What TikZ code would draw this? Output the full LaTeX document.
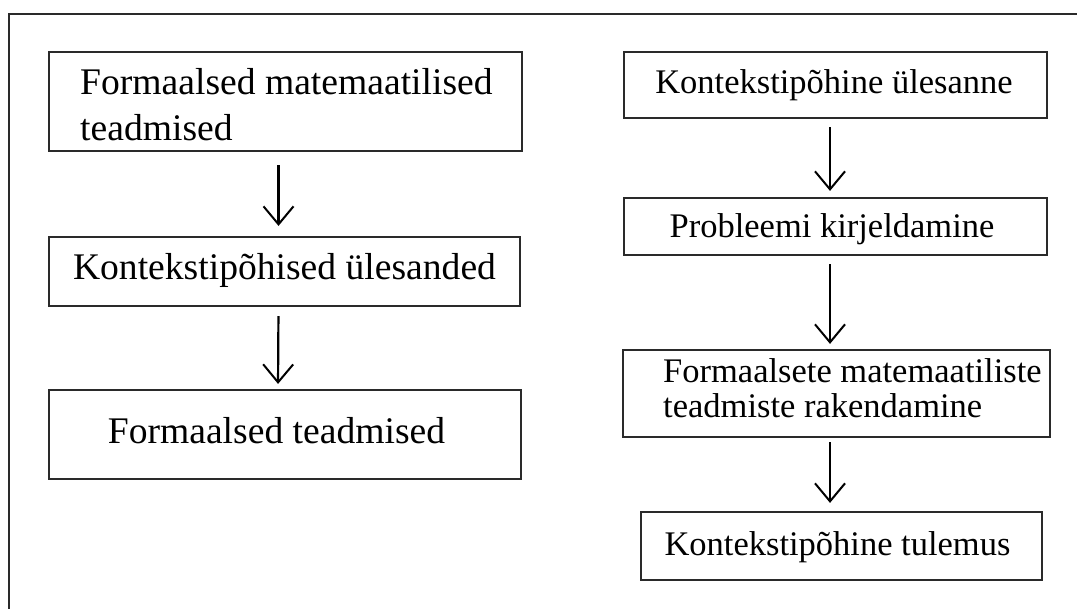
\documentclass[tikz,border=0pt]{standalone}
\usepackage{fontspec}
\setmainfont{Liberation Serif}
\usetikzlibrary{arrows.meta}
\definecolor{frameC}{HTML}{2A2A2A}
\tikzset{
  boxstyle/.style={draw=frameC, line width=2.2pt, inner sep=0pt},
  lefttext/.style={font=\fontsize{37.6}{46}\selectfont, inner sep=0pt, align=left},
  righttext/.style={font=\fontsize{34.5}{35}\selectfont, inner sep=0pt, align=left},
  flowarrow/.style={line width=2.2pt, black, -{Straight Barb[length=18pt,width=30pt,line width=2pt]}}
}
\begin{document}
\begin{tikzpicture}[x=1pt,y=-1pt]
\useasboundingbox (0,0) rectangle (1077,609);
% outer frame (open at right and bottom)
\draw[frameC, line width=2.2pt] (1077,14) -- (9,14) -- (9,609);

% left column boxes
\node[boxstyle, minimum width=473pt, minimum height=99pt] (b1) at (285.5,101.5) {};
\node[lefttext, anchor=base west] (t1a) at (80,94.5) {Formaalsed matemaatilised};
\node[lefttext, anchor=base west] (t1b) at (80,141) {teadmised};

\node[boxstyle, minimum width=471pt, minimum height=69pt] (b2) at (284.5,271.5) {};
\node[lefttext, anchor=base] (t2) at (284.5,280) {Kontekstipõhised ülesanded};

\node[boxstyle, minimum width=472pt, minimum height=89pt] (b3) at (285,434.5) {};
\node[lefttext, anchor=base] (t3) at (276.5,444) {Formaalsed teadmised};

% right column boxes
\node[boxstyle, minimum width=423pt, minimum height=66pt] (r1) at (835.5,85) {};
\node[righttext, anchor=base] (s1) at (834,94) {Kontekstipõhine ülesanne};

\node[boxstyle, minimum width=423pt, minimum height=57pt] (r2) at (835.5,226.5) {};
\node[righttext, anchor=base] (s2) at (832,238) {Probleemi kirjeldamine};

\node[boxstyle, minimum width=427pt, minimum height=87pt] (r3) at (836.5,393.5) {};
\node[righttext, anchor=base west] (s3a) at (663,383) {Formaalsete matemaatiliste};
\node[righttext, anchor=base west] (s3b) at (663,418) {teadmiste rakendamine};

\node[boxstyle, minimum width=401pt, minimum height=68pt] (r4) at (841.5,546) {};
\node[righttext, anchor=base] (s4) at (837.5,555) {Kontekstipõhine tulemus};

% arrows
\draw[flowarrow, shorten <=13pt, shorten >=10pt] ([xshift=-7pt]b1.south) -- ([xshift=-6pt]b2.north);
\draw[flowarrow, shorten <=9pt, shorten >=5pt] ([xshift=-6pt]b2.south) -- ([xshift=-7pt]b3.north);
\draw[flowarrow, shorten <=8pt, shorten >=6pt] ([xshift=-5.5pt]r1.south) -- ([xshift=-5.5pt]r2.north);
\draw[flowarrow, shorten <=8pt, shorten >=5pt] ([xshift=-5.5pt]r2.south) -- ([xshift=-6.5pt]r3.north);
\draw[flowarrow, shorten <=4pt, shorten >=8pt] ([xshift=-6.5pt]r3.south) -- ([xshift=-11.5pt]r4.north);
\end{tikzpicture}
\end{document}
